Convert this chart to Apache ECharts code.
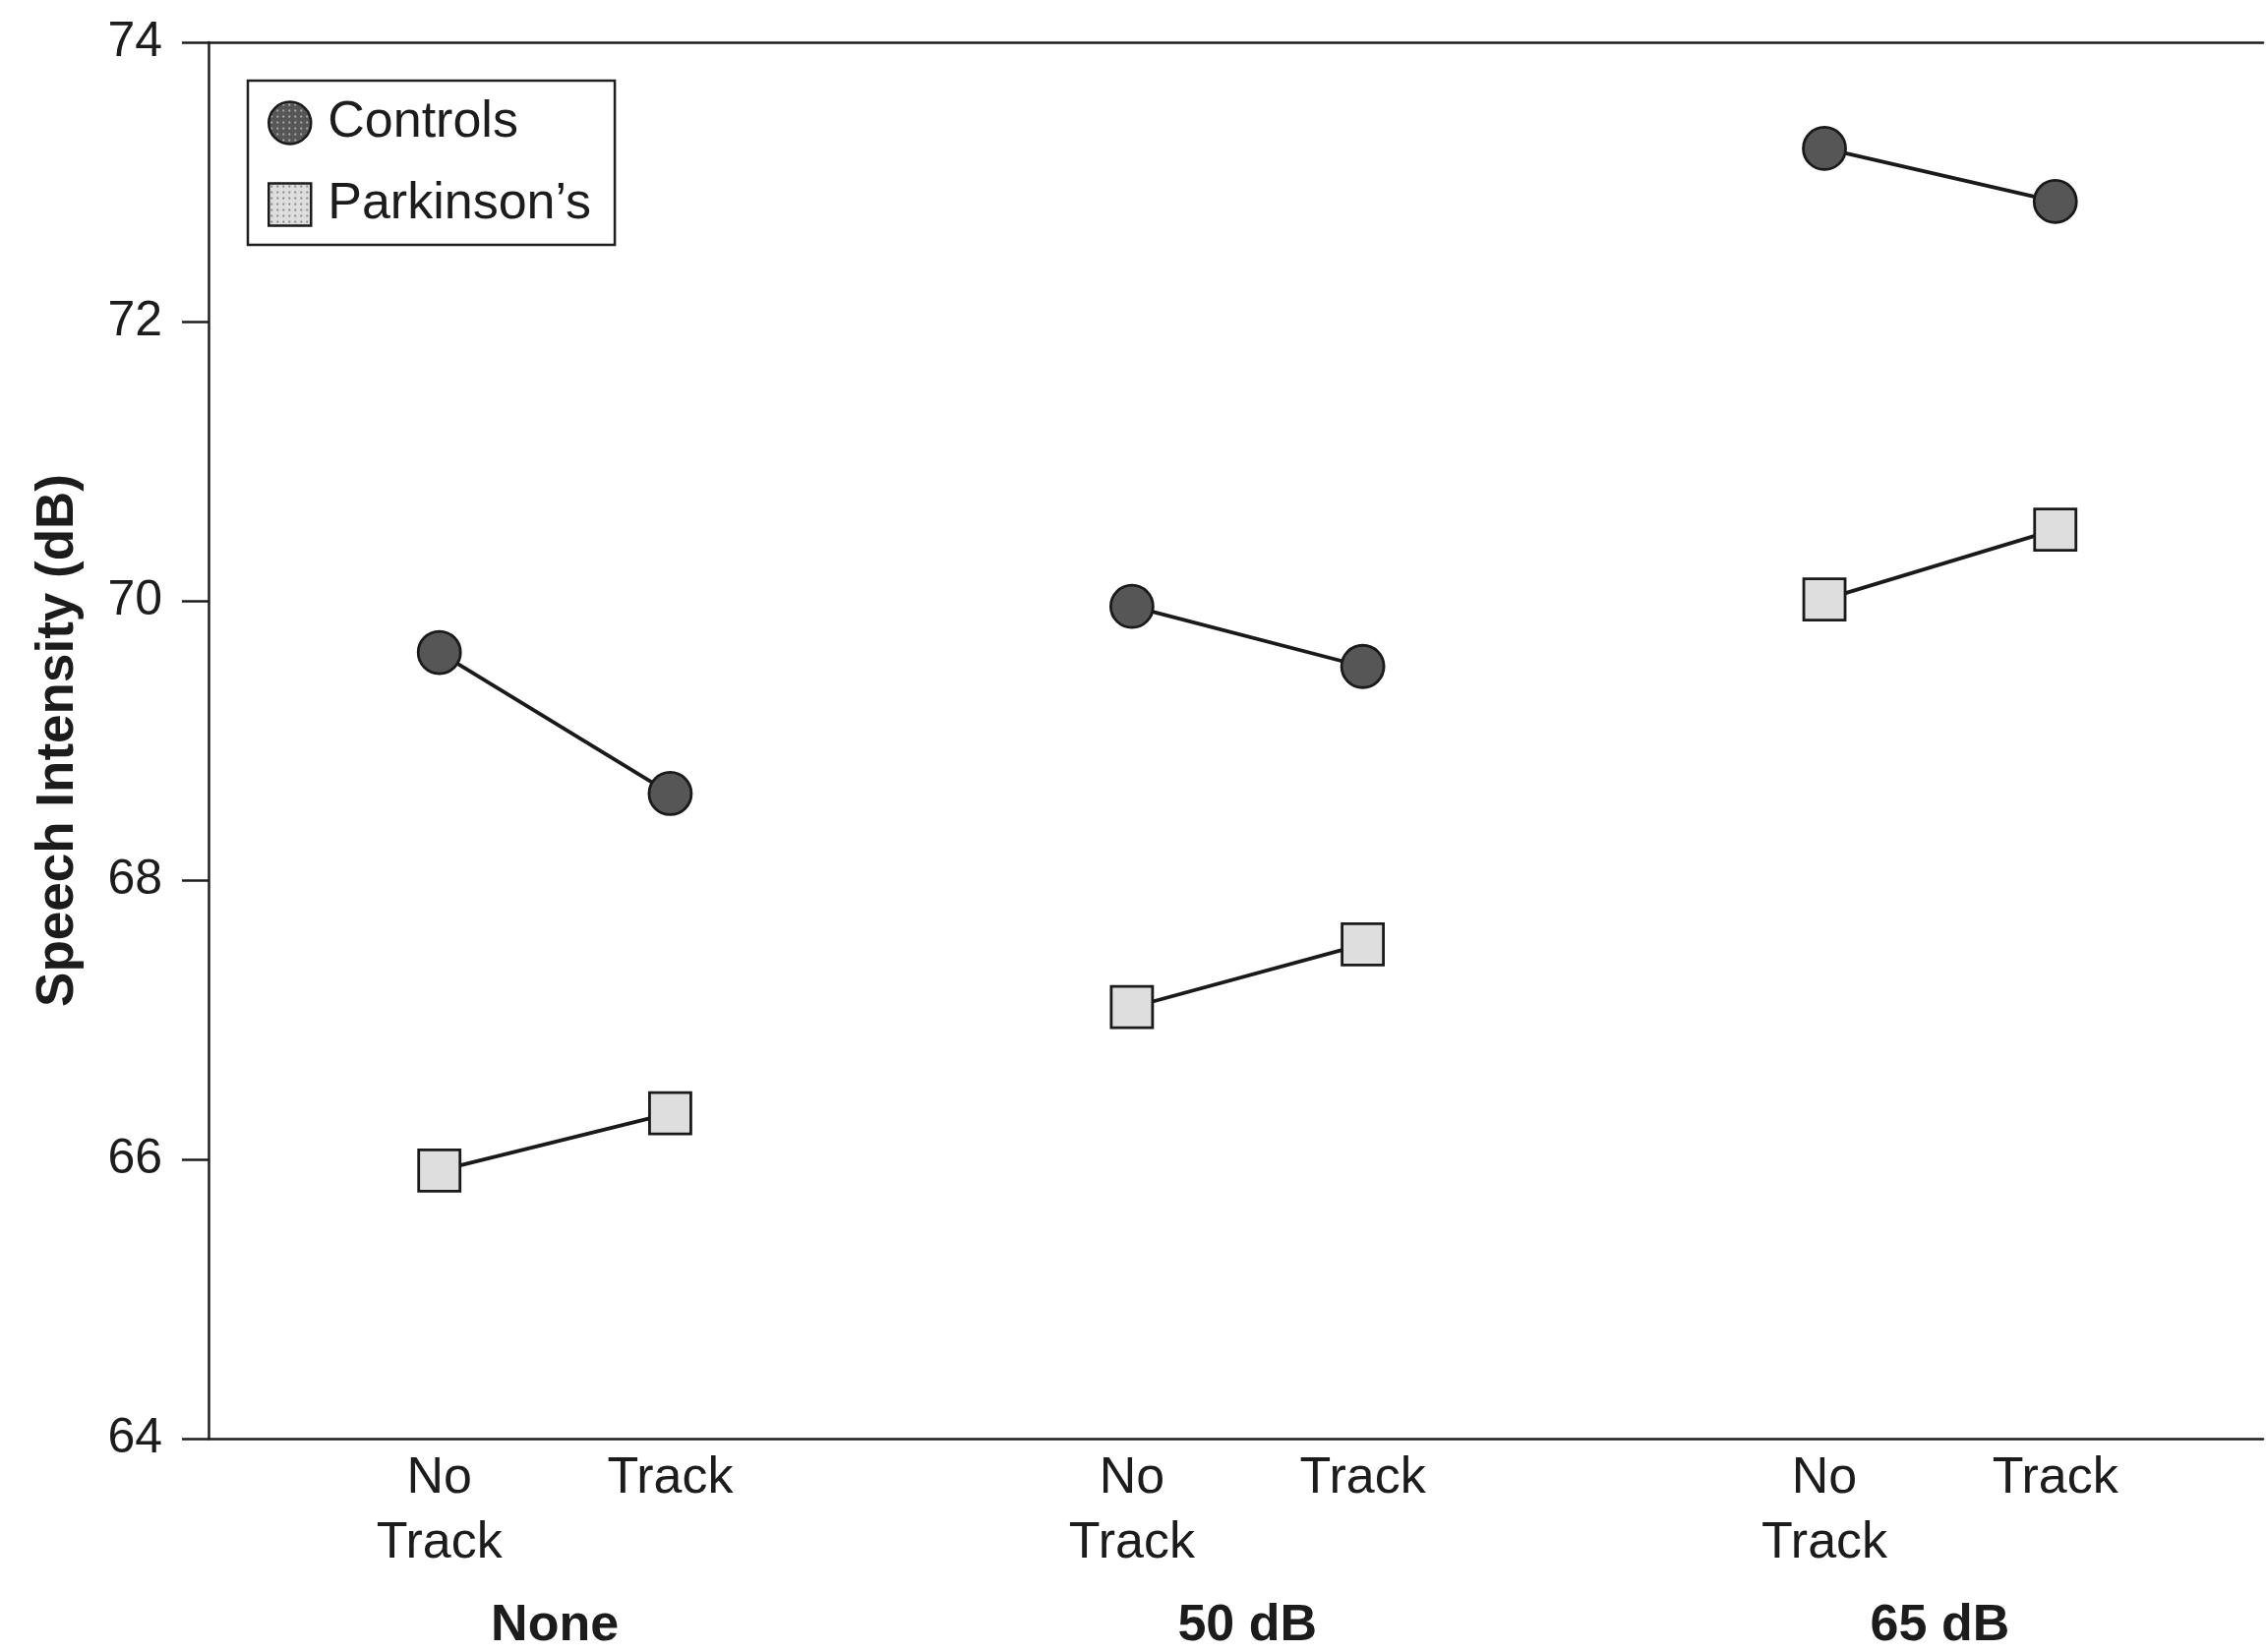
<!DOCTYPE html>
<html>
<head>
<meta charset="utf-8">
<script src="https://cdn.jsdelivr.net/npm/echarts@6/dist/echarts.min.js"></script>
<style>
  html, body { margin: 0; padding: 0; background: #ffffff; }
  #chart { width: 2304px; height: 1680px; }
</style>
</head>
<body>
<div id="chart"></div>
<script>
// ---- data ----
const groups = ['None', '50 dB', '65 dB'];
const conditions = ['No\nTrack', 'Track'];
const seriesNames = ['Controls', 'Parkinson\u2019s'];
const controls = [69.63, 68.62, 69.96, 69.53, 73.24, 72.86];
const parkinsons = [65.92, 66.33, 67.09, 67.54, 70.01, 70.51];
const yTicks = [64, 66, 68, 70, 72, 74];

// ---- helpers ----
const FONT = "'Liberation Sans', Arial, Helvetica, sans-serif";
const TEXT = '#1c1c1c';

function makePattern(bg, dot, step, size) {
  const c = document.createElement('canvas');
  c.width = step; c.height = step;
  const ctx = c.getContext('2d');
  ctx.fillStyle = bg; ctx.fillRect(0, 0, step, step);
  ctx.fillStyle = dot;
  ctx.fillRect(Math.floor(step / 2 - size / 2), Math.floor(step / 2 - size / 2), size, size);
  return { image: c, repeat: 'repeat' };
}
const darkFill = makePattern('#565656', '#a8a8a8', 6, 2);
const lightFill = makePattern('#dedede', '#8a8a8a', 6, 2);

// x position of each condition within the groups (library value scale units)
function buildData(values) {
  const out = [];
  groups.forEach(function (g, gi) {
    conditions.forEach(function (c, ci) {
      out.push([gi * 3 + ci + 1, values[gi * conditions.length + ci]]);
    });
    out.push([gi * 3 + 3, '-']);
  });
  return out;
}
function conditionLabel(v) {
  const r = Math.round(v);
  if (Math.abs(v - r) > 1e-6) return '';
  const gi = Math.floor((r - 1) / 3), ci = (r - 1) % 3;
  if (r < 1 || gi >= groups.length || ci >= conditions.length) return '';
  return conditions[ci];
}
function groupLabel(v) {
  const k = (v - 1.5) / 3;
  const r = Math.round(k);
  if (Math.abs(k - r) > 1e-6 || r < 0 || r >= groups.length) return '';
  return groups[r];
}

const chart = echarts.init(document.getElementById('chart'), null, { renderer: 'canvas' });
chart.setOption({
  backgroundColor: '#ffffff',
  animation: false,
  textStyle: { fontFamily: FONT, color: TEXT },
  grid: { left: 212, right: 0, top: 43, bottom: 216, containLabel: false },
  legend: {
    orient: 'vertical',
    left: 252, top: 82,
    padding: [17, 24, 15, 20],
    itemGap: 31,
    itemWidth: 43, itemHeight: 43,
    borderColor: '#1e1e1e', borderWidth: 2.5,
    backgroundColor: '#ffffff',
    textStyle: { fontFamily: FONT, fontSize: 52, color: TEXT, padding: [0, 0, 0, 12] },
    data: [
      { name: seriesNames[0], icon: 'circle', itemStyle: { color: darkFill, borderColor: '#1a1a1a', borderWidth: 2.5 } },
      { name: seriesNames[1], icon: 'rect', itemStyle: { color: lightFill, borderColor: '#1a1a1a', borderWidth: 2.5 } }
    ]
  },
  xAxis: [
    {
      type: 'value', position: 'bottom', min: 0, max: 8.9, interval: 1,
      axisLine: { show: true, lineStyle: { color: '#1e1e1e', width: 2.5 } },
      axisTick: { show: false },
      splitLine: { show: false },
      axisLabel: {
        show: true, margin: 8, fontFamily: FONT, fontSize: 52, lineHeight: 66, color: TEXT,
        formatter: conditionLabel, showMinLabel: true, showMaxLabel: true
      }
    },
    {
      type: 'value', position: 'bottom', offset: 159, min: 0, max: 8.9, interval: 1.5,
      axisLine: { show: false }, axisTick: { show: false }, splitLine: { show: false },
      axisLabel: {
        show: true, margin: 6, fontFamily: FONT, fontSize: 52, fontWeight: 'bold', color: TEXT,
        formatter: groupLabel
      }
    },
    {
      type: 'value', position: 'top', min: 0, max: 8.9,
      axisLine: { show: true, lineStyle: { color: '#1e1e1e', width: 2.5 } },
      axisTick: { show: false }, axisLabel: { show: false }, splitLine: { show: false }
    }
  ],
  yAxis: {
    type: 'value', min: yTicks[0], max: yTicks[yTicks.length - 1], interval: yTicks[1] - yTicks[0],
    name: 'Speech Intensity (dB)', nameLocation: 'middle', nameGap: 126,
    nameTextStyle: { fontFamily: FONT, fontSize: 53, fontWeight: 'bold', color: TEXT },
    axisLine: { show: true, lineStyle: { color: '#1e1e1e', width: 2.5 } },
    axisTick: { show: true, inside: false, length: 27, lineStyle: { color: '#1e1e1e', width: 2.5 } },
    splitLine: { show: false },
    axisLabel: { margin: 47, fontFamily: FONT, fontSize: 50, color: TEXT }
  },
  series: [
    {
      name: seriesNames[0], type: 'line', xAxisIndex: 0,
      data: buildData(controls),
      connectNulls: false,
      symbol: 'circle', symbolSize: 43,
      lineStyle: { color: '#1a1a1a', width: 3.8 },
      itemStyle: { color: darkFill, borderColor: '#1a1a1a', borderWidth: 2.8 },
      z: 3
    },
    {
      name: seriesNames[1], type: 'line', xAxisIndex: 0,
      data: buildData(parkinsons),
      connectNulls: false,
      symbol: 'rect', symbolSize: 42,
      lineStyle: { color: '#1a1a1a', width: 3.8 },
      itemStyle: { color: lightFill, borderColor: '#1a1a1a', borderWidth: 2.8 },
      z: 3
    }
  ]
});
</script>
</body>
</html>
